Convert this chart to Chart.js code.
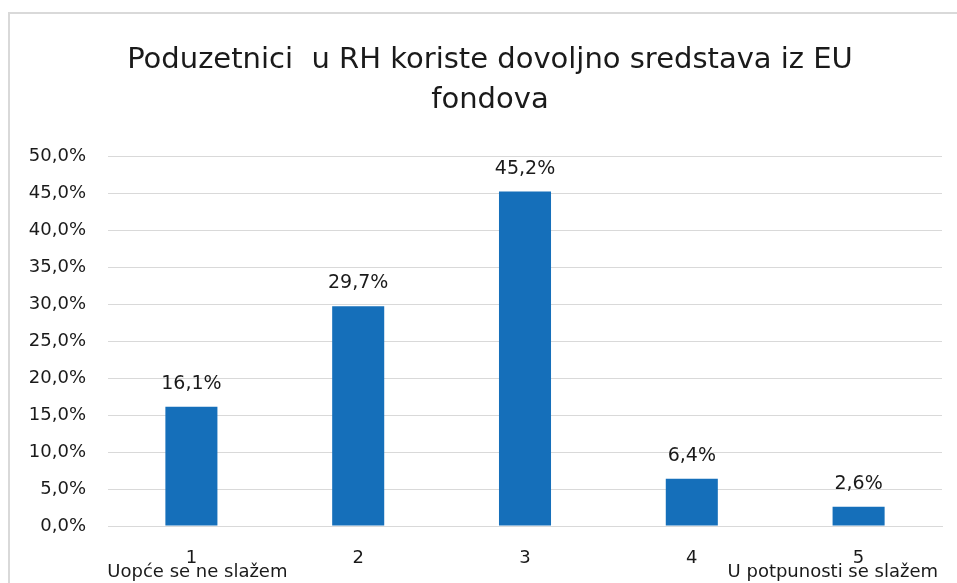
<!DOCTYPE html>
<html>
<head>
<meta charset="utf-8">
<script src="https://cdn.jsdelivr.net/npm/chart.js@4/dist/chart.umd.min.js"></script>
<style>
    html, body { margin: 0; padding: 0; background: #fff; overflow: hidden; }
    #wrap { position: relative; width: 957px; height: 583px; }
    #frame { position: absolute; left: 8px; top: 12px; width: 1200px; height: 900px; border: 2px solid #d9d9d9; }
    canvas { position: absolute; left: 0; top: 0; }
</style>
</head>
<body>
<div id="wrap">
    <div id="frame"></div>
    <canvas id="barChart" width="957" height="583"></canvas>
</div>
<script>
const categories = ['1', '2', '3', '4', '5'];
const captions = ['Uopće se ne slažem', '', '', '', 'U potpunosti se slažem'];
const shares = [16.1, 29.7, 45.2, 6.4, 2.6];
const titleLines = ['Poduzetnici  u RH koriste dovoljno sredstava iz EU', 'fondova'];

const FONT = '"DejaVu Sans", sans-serif';
const BAR_COLOR = '#156FBA';

function pct(v) {
    return v.toFixed(1).replace('.', ',') + '%';
}

// chart title, centred on the outer frame rather than the canvas
const frameTitle = {
    id: 'frameTitle',
    afterDraw(chart) {
        const ctx = chart.ctx;
        ctx.save();
        ctx.font = '29px ' + FONT;
        ctx.fillStyle = '#1a1a1a';
        ctx.textAlign = 'center';
        ctx.textBaseline = 'alphabetic';
        titleLines.forEach((line, i) => ctx.fillText(line, 490, 68 + i * 40));
        ctx.restore();
    }
};

// value labels above each bar
const valueLabels = {
    id: 'valueLabels',
    afterDatasetsDraw(chart) {
        const ctx = chart.ctx;
        const meta = chart.getDatasetMeta(0);
        ctx.save();
        ctx.font = '19px ' + FONT;
        ctx.fillStyle = '#1a1a1a';
        ctx.textAlign = 'center';
        ctx.textBaseline = 'alphabetic';
        meta.data.forEach((bar, i) => {
            ctx.fillText(pct(shares[i]), bar.x, bar.y - 18);
        });
        ctx.restore();
    }
};

// second line under the first and last category
const axisCaptions = {
    id: 'axisCaptions',
    afterDraw(chart) {
        const ctx = chart.ctx;
        const x = chart.scales.x;
        ctx.save();
        ctx.font = '18px ' + FONT;
        ctx.fillStyle = '#1a1a1a';
        ctx.textAlign = 'center';
        ctx.textBaseline = 'alphabetic';
        captions.forEach((txt, i) => {
            if (!txt) return;
            const px = x.getPixelForTick(i);
            const w = ctx.measureText(txt).width;
            let cx = px + 6;
            if (cx + w / 2 > chart.chartArea.right - 4) cx = chart.chartArea.right - 4 - w / 2;
            ctx.fillText(txt, cx, 577);
        });
        ctx.restore();
    }
};

const ctx = document.getElementById('barChart').getContext('2d');
new Chart(ctx, {
    type: 'bar',
    data: {
        labels: categories,
        datasets: [{
            data: shares,
            backgroundColor: BAR_COLOR,
            borderWidth: 0,
            barPercentage: 0.312,
            categoryPercentage: 1
        }]
    },
    options: {
        responsive: false,
        animation: false,
        layout: { padding: { left: 0, right: 15, top: 156, bottom: 0 } },
        plugins: {
            legend: { display: false },
            tooltip: { enabled: false },
            title: { display: false }
        },
        scales: {
            x: {
                grid: { display: false },
                border: { display: true, color: '#d9d9d9', width: 1 },
                ticks: {
                    color: '#1a1a1a',
                    font: { family: FONT, size: 18 },
                    padding: 14,
                    maxRotation: 0
                },
                afterFit(scale) { scale.height = 57; }
            },
            y: {
                min: 0,
                max: 50,
                grid: { color: '#d9d9d9', lineWidth: 1, drawTicks: false },
                border: { display: false },
                ticks: {
                    stepSize: 5,
                    color: '#1a1a1a',
                    font: { family: FONT, size: 18 },
                    padding: 22,
                    callback: v => pct(v)
                },
                afterFit(scale) { scale.width = 108; }
            }
        }
    },
    plugins: [valueLabels, axisCaptions, frameTitle]
});
</script>
</body>
</html>
